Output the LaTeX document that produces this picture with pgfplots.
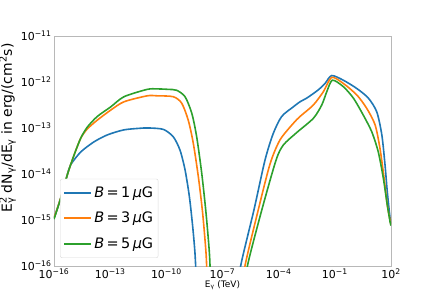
\documentclass[border=0pt]{standalone}
\usepackage{pgfplots}
\pgfplotsset{compat=1.18}
\usepackage{fontspec}
\setmainfont{DejaVu Sans}
\definecolor{c1}{HTML}{1F77B4}
\definecolor{c2}{HTML}{FF7F0E}
\definecolor{c3}{HTML}{2CA02C}
\pgfplotsset{sp/.style={line width=1.6bp, smooth, tension=0.45}}
\begin{document}
\begin{tikzpicture}
\begin{axis}[
  scale only axis, width=337bp, height=230bp,
  xmode=log, ymode=log,
  xmin=1e-16, xmax=1e2, ymin=1e-16, ymax=1e-11,
  xtick={1e-16,1e-13,1e-10,1e-7,1e-4,1e-1,1e2},
  xticklabels={10\textsuperscript{−16},10\textsuperscript{−13},10\textsuperscript{−10},10\textsuperscript{−7},10\textsuperscript{−4},10\textsuperscript{−1},10\textsuperscript{2}},
  ytick={1e-16,1e-15,1e-14,1e-13,1e-12,1e-11},
  yticklabels={10\textsuperscript{−16},10\textsuperscript{−15},10\textsuperscript{−14},10\textsuperscript{−13},10\textsuperscript{−12},10\textsuperscript{−11}},
  xminorticks=false, yminorticks=false,
  major tick length=0pt,
  axis line style={color=black!28, line width=0.8bp},
  tick label style={font=\fontsize{11}{13}\selectfont, text=black},
  xticklabel style={yshift=1bp},
  yticklabel style={xshift=1bp},
  xlabel={E\textsubscript{γ} (TeV)},
  xlabel style={font=\fontsize{9}{11}\selectfont, yshift=4bp},
  ylabel={E\rlap{\textsuperscript{2}}\textsubscript{γ} dN\textsubscript{γ}/dE\textsubscript{γ} in erg/(cm\textsuperscript{2}s)},
  ylabel style={font=\fontsize{14}{16}\selectfont, at={(ticklabel cs:0.6)}, yshift=-2bp},
  legend style={at={(0.018,0.035)}, anchor=south west, draw=black!15, rounded corners=2bp, fill=white,
    font=\fontsize{14.5}{17}\selectfont, row sep=9.6bp, inner xsep=3bp, inner ysep=5.5bp},
  legend cell align=left,
  legend image code/.code={\draw[#1] (0bp,0bp) -- (27bp,0bp);},
]
\addlegendimage{c1, line width=2.1bp}
\addlegendentry{\textit{B}\,=\,1\,\textit{μ}G}
\addlegendimage{c2, line width=2.1bp}
\addlegendentry{\textit{B}\,=\,3\,\textit{μ}G}
\addlegendimage{c3, line width=2.1bp}
\addlegendentry{\textit{B}\,=\,5\,\textit{μ}G}
% B = 1 muG
\addplot[c1, sp, forget plot] coordinates {
(1e-16,1.096e-15) (2.29e-16,3.02e-15) (5.13e-16,9.55e-15) (7.76e-16,1.585e-14)
(2.69e-15,3.02e-14) (1.38e-14,5.01e-14) (7.08e-14,7.08e-14) (5.50e-13,9.12e-14)
(6.31e-12,1.0e-13) (1.35e-11,1.0e-13) (6.92e-11,9.33e-14) (2.34e-10,6.46e-14)
(5.37e-10,3.31e-14) (1e-9,1.23e-14) (1.70e-9,3.24e-15) (2.57e-9,7.08e-16)
(3.39e-9,1.905e-16) (3.98e-9,5.01e-17)};
% B = 3 muG
\addplot[c2, sp, forget plot] coordinates {
(1e-16,1.096e-15) (2.29e-16,3.02e-15) (5.13e-16,9.55e-15) (1.175e-15,2.57e-14)
(2.69e-15,6.03e-14) (6.03e-15,9.55e-14) (2.04e-14,1.48e-13) (1.07e-13,2.45e-13)
(5.50e-13,3.72e-13) (9.55e-12,5.01e-13) (3.16e-11,5.01e-13) (2.34e-10,4.79e-13)
(6.61e-10,3.47e-13) (1.48e-9,1.48e-13) (2.75e-9,4.68e-14) (5.13e-9,8.71e-15)
(8.71e-9,1.41e-15) (1.32e-8,1.905e-16) (1.51e-8,5.01e-17)};
% B = 5 muG
\addplot[c3, sp, forget plot] coordinates {
(1e-16,1.047e-15) (2.29e-16,2.95e-15) (5.13e-16,9.55e-15) (1.175e-15,2.57e-14)
(2.69e-15,6.03e-14) (6.03e-15,1.047e-13) (2.04e-14,1.78e-13) (1.07e-13,2.88e-13)
(5.50e-13,4.79e-13) (9.55e-12,6.92e-13) (3.16e-11,7.08e-13) (1.26e-10,6.92e-13)
(3.55e-10,6.61e-13) (1e-9,4.79e-13) (2.29e-9,2.09e-13) (4.17e-9,6.46e-14)
(7.76e-9,1.047e-14) (1.32e-8,1.41e-15) (2.0e-8,1.905e-16) (2.29e-8,5.01e-17)};
% high-energy humps
\addplot[c1, sp, forget plot] coordinates {
(7.94e-7,3.16e-17) (9.33e-7,1.0e-16) (4.79e-6,1.66e-15) (1.86e-5,2.0e-14)
(5.13e-5,7.59e-14) (1.45e-4,1.78e-13) (6.03e-4,2.88e-13) (1.38e-3,3.72e-13)
(3.16e-3,4.47e-13) (1.32e-2,6.76e-13) (3.02e-2,9.33e-13) (6.76e-2,1.38e-12)
(2.82e-1,1.096e-12) (1.479,7.24e-13) (6.17,4.47e-13) (17.4,2.24e-13)
(32.4,7.08e-14) (47.9,1.585e-14) (63.1,4.17e-15) (89.1,1.096e-15) (100,8.32e-16)};
\addplot[c2, sp, forget plot] coordinates {
(1.35e-6,3.16e-17) (1.585e-6,1.0e-16) (8.13e-6,1.66e-15) (3.47e-5,1.66e-14)
(1.175e-4,5.50e-14) (6.03e-4,1.26e-13) (1.38e-3,1.78e-13) (7.08e-3,3.16e-13)
(2.45e-2,6.17e-13) (6.76e-2,1.26e-12) (2.82e-1,9.33e-13) (1.479,5.25e-13)
(5.01,2.69e-13) (14.1,1.175e-13) (25.7,3.63e-14) (42.7,8.13e-15)
(63.1,2.14e-15) (89.1,1.0e-15) (100,7.94e-16)};
\addplot[c3, sp, forget plot] coordinates {
(1.82e-6,3.16e-17) (2.14e-6,1.0e-16) (1.26e-5,1.66e-15) (7.24e-5,2.0e-14)
(1.78e-4,4.27e-14) (9.12e-4,7.94e-14) (7.08e-3,1.62e-13) (2.0e-2,3.16e-13)
(3.72e-2,6.17e-13) (7.41e-2,1.096e-12) (2.82e-1,7.94e-13) (0.977,4.47e-13)
(3.31,1.905e-13) (9.33,8.32e-14) (20.9,3.02e-14) (38.9,8.13e-15)
(63.1,2.14e-15) (89.1,9.12e-16) (100,7.59e-16)};
\end{axis}
\pgfresetboundingbox
\path ([shift={(-54bp,-34bp)}]current axis.south west) rectangle ([shift={(45bp,36bp)}]current axis.north east);
\end{tikzpicture}
\end{document}
